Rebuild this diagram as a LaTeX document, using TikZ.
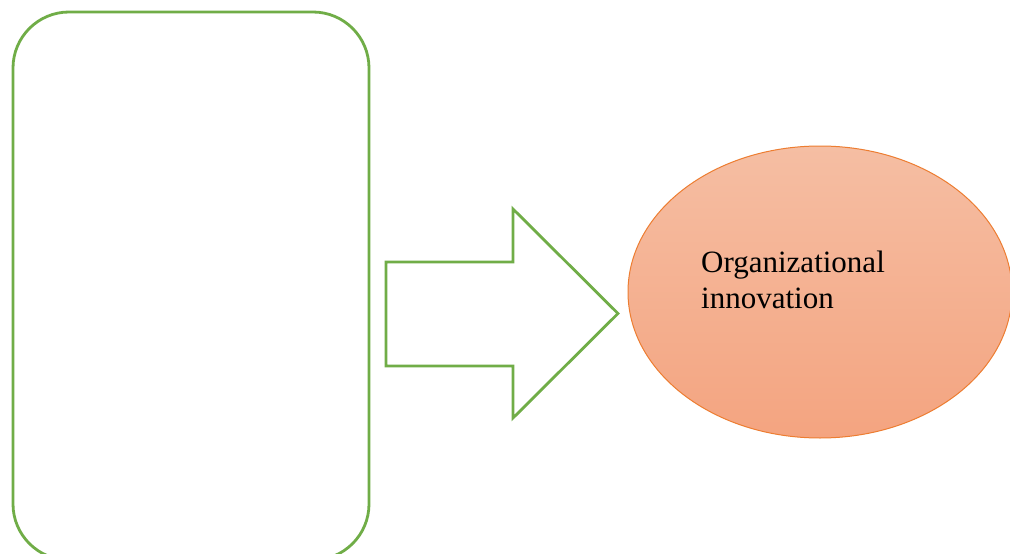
\documentclass[tikz,border=0pt]{standalone}
\usepackage{fontspec}
\usetikzlibrary{shapes.geometric}
\setmainfont{Liberation Serif}
\definecolor{boxgreen}{RGB}{112,173,71}
\definecolor{ellorange}{RGB}{237,125,49}
\definecolor{elltop}{RGB}{245,190,163}
\definecolor{ellbottom}{RGB}{244,164,128}
\begin{document}
\begin{tikzpicture}[x=1pt,y=-1pt,
  greenline/.style={draw=boxgreen,line width=2.8pt},
  ellstyle/.style={ellipse,draw=ellorange,line width=1pt,top color=elltop,bottom color=ellbottom,minimum width=384pt,minimum height=292pt,inner sep=0pt},
  labeltext/.style={font=\fontsize{31}{36}\selectfont,align=left,inner sep=0pt,anchor=north west}]
\useasboundingbox (0,0) rectangle (1010,554);
\clip (0,0) rectangle (1010,554);
\fill[white] (0,0) rectangle (1010,554);
% rounded box
\draw[greenline,rounded corners=56pt] (13,12) rectangle (369,560);
% block arrow
\draw[greenline,line join=miter] (386,262) -- (513,262) -- (513,209) -- (618,313.5) -- (513,418) -- (513,366) -- (386,366) -- cycle;
% ellipse
\node[ellstyle] (innov) at (820,292) {};
\node[labeltext] (innovtext) at (701,251) {Organizational\\innovation};
\end{tikzpicture}
\end{document}
